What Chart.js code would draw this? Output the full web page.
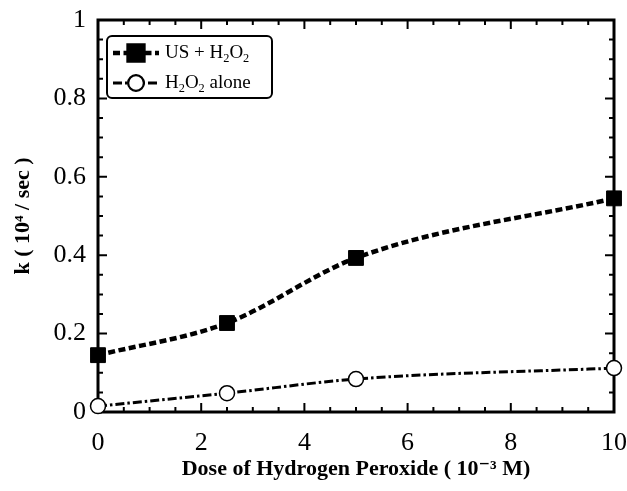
<!DOCTYPE html>
<html>
<head>
<meta charset="utf-8">
<script src="https://cdn.jsdelivr.net/npm/chart.js@4.4.1/dist/chart.umd.min.js"></script>
<style>
  html, body { margin: 0; padding: 0; background: #fff; }
  #wrap { width: 627px; height: 491px; }
</style>
</head>
<body>
<div id="wrap"><canvas id="c" width="627" height="491"></canvas></div>
<script>
// ---- data ----
const doses = [0, 2.5, 5, 10];
const usH2O2 = [0.145, 0.227, 0.393, 0.545];
const h2o2Alone = [0.015, 0.048, 0.084, 0.112];
const seriesLabels = ['US + H₂O₂', 'H₂O₂ alone'];
const xTickValues = [0, 2, 4, 6, 8, 10];
const yTickValues = [0, 0.2, 0.4, 0.6, 0.8, 1];
const xTitle = 'Dose of Hydrogen Peroxide ( 10⁻³ M)';
const yTitle = 'k ( 10⁴ / sec )';

const SERIF = '"Liberation Serif", "DejaVu Serif", serif';

function pts(xs, ys) { return xs.map((x, i) => ({ x: x, y: ys[i] })); }

// frame + inward ticks on all four sides
const framePlugin = {
  id: 'frame',
  beforeDatasetsDraw(chart) {
    const { ctx, chartArea: a, scales: { x, y } } = chart;
    ctx.save();
    ctx.strokeStyle = '#000';
    ctx.lineWidth = 2;
    ctx.beginPath();
    for (let i = 0; i <= 20; i++) {
      const px = x.getPixelForValue(i * 0.5);
      const len = (i % 4 === 0) ? 9 : 5;
      ctx.moveTo(px, a.bottom); ctx.lineTo(px, a.bottom - len);
      ctx.moveTo(px, a.top); ctx.lineTo(px, a.top + len);
    }
    for (let i = 0; i <= 20; i++) {
      const py = y.getPixelForValue(i * 0.05);
      const len = (i % 4 === 0) ? 9 : 5;
      ctx.moveTo(a.left, py); ctx.lineTo(a.left + len, py);
      ctx.moveTo(a.right, py); ctx.lineTo(a.right - len, py);
    }
    ctx.stroke();
    ctx.lineWidth = 3;
    ctx.strokeRect(a.left, a.top, a.right - a.left, a.bottom - a.top);
    ctx.restore();
  }
};

// legend drawn inside plot area, top-left
const SUBS = { '₀':'0','₁':'1','₂':'2','₃':'3','₄':'4','₅':'5','₆':'6','₇':'7','₈':'8','₉':'9' };
function drawRich(ctx, text, x, y, size) {
  let cx = x;
  for (const ch of text) {
    if (SUBS[ch]) {
      ctx.font = (size * 0.65) + 'px ' + SERIF;
      ctx.fillText(SUBS[ch], cx, y + size * 0.28);
      cx += ctx.measureText(SUBS[ch]).width;
    } else {
      ctx.font = size + 'px ' + SERIF;
      ctx.fillText(ch, cx, y);
      cx += ctx.measureText(ch).width;
    }
  }
  return cx - x;
}
const legendPlugin = {
  id: 'insideLegend',
  afterDatasetsDraw(chart) {
    const { ctx, chartArea: a } = chart;
    const bx = a.left + 9, by = a.top + 16, bw = 165, bh = 62;
    ctx.save();
    ctx.fillStyle = '#fff';
    ctx.strokeStyle = '#000';
    ctx.lineWidth = 2;
    ctx.beginPath();
    ctx.roundRect(bx, by, bw, bh, 5);
    ctx.fill(); ctx.stroke();
    chart.data.datasets.forEach((ds, i) => {
      const ly = by + 17 + i * 30;
      const x0 = bx + 6, x1 = bx + 52;
      ctx.setLineDash(ds.borderDash);
      ctx.lineWidth = ds.borderWidth;
      ctx.strokeStyle = ds.borderColor;
      ctx.beginPath(); ctx.moveTo(x0, ly); ctx.lineTo(x1, ly); ctx.stroke();
      ctx.setLineDash([]);
      Chart.helpers.drawPoint(ctx, {
        pointStyle: ds.pointStyle, radius: ds.pointRadius,
        borderWidth: ds.pointBorderWidth, rotation: 0
      }, (x0 + x1) / 2, ly);
      ctx.fillStyle = ds.pointBackgroundColor;
      ctx.strokeStyle = ds.pointBorderColor;
      ctx.lineWidth = ds.pointBorderWidth;
      ctx.fill();
      ctx.stroke();
      ctx.fillStyle = '#000';
      ctx.textBaseline = 'middle';
      drawRich(ctx, ds.label, x1 + 6, ly, 19);
    });
    ctx.restore();
  }
};

const bgPlugin = {
  id: 'bg',
  beforeDraw(chart) {
    const { ctx, width, height } = chart;
    ctx.save(); ctx.fillStyle = '#fff'; ctx.fillRect(0, 0, width, height); ctx.restore();
  }
};

new Chart(document.getElementById('c'), {
  type: 'scatter',
  data: {
    datasets: [
      {
        label: seriesLabels[0],
        data: pts(doses, usH2O2),
        showLine: true,
        cubicInterpolationMode: 'monotone',
        borderColor: '#000',
        borderWidth: 4.5,
        borderDash: [7, 3.5],
        pointStyle: 'rect',
        pointRadius: 10.5,
        pointBackgroundColor: '#000',
        pointBorderColor: '#000',
        pointBorderWidth: 1,
        clip: false
      },
      {
        label: seriesLabels[1],
        data: pts(doses, h2o2Alone),
        showLine: true,
        cubicInterpolationMode: 'monotone',
        borderColor: '#000',
        borderWidth: 3,
        borderDash: [9, 3, 2.5, 3],
        pointStyle: 'circle',
        pointRadius: 7.5,
        pointBackgroundColor: '#fff',
        pointBorderColor: '#000',
        pointBorderWidth: 1.5,
        clip: false
      }
    ]
  },
  options: {
    responsive: false,
    animation: false,
    devicePixelRatio: 1,
    layout: { padding: { left: 0, right: 13, top: 20, bottom: 0 } },
    plugins: { legend: { display: false }, tooltip: { enabled: false } },
    scales: {
      x: {
        type: 'linear', min: 0, max: 10,
        afterFit(s) { s.height = 79; s.paddingLeft = 0; s.paddingRight = 0; },
        afterBuildTicks(s) { s.ticks = xTickValues.map(v => ({ value: v })); },
        grid: { display: false, drawTicks: false },
        border: { display: false },
        ticks: {
          color: '#000', padding: 16, maxRotation: 0, autoSkip: false,
          font: { family: SERIF, size: 26 },
          callback: v => String(v)
        },
        title: {
          display: true, text: xTitle, color: '#000',
          font: { family: SERIF, size: 22, weight: 'bold' },
          padding: { top: 2, bottom: 8 }
        }
      },
      y: {
        type: 'linear', min: 0, max: 1,
        afterFit(s) { s.width = 98; s.paddingTop = 0; s.paddingBottom = 0; },
        afterBuildTicks(s) { s.ticks = yTickValues.map(v => ({ value: v })); },
        grid: { display: false, drawTicks: false },
        border: { display: false },
        ticks: {
          color: '#000', padding: 12, autoSkip: false,
          font: { family: SERIF, size: 26 },
          callback: v => String(v)
        },
        title: {
          display: true, text: yTitle, color: '#000',
          font: { family: SERIF, size: 22, weight: 'bold' },
          padding: { top: 10, bottom: 0 }
        }
      }
    }
  },
  plugins: [bgPlugin, framePlugin, legendPlugin]
});
</script>
</body>
</html>
